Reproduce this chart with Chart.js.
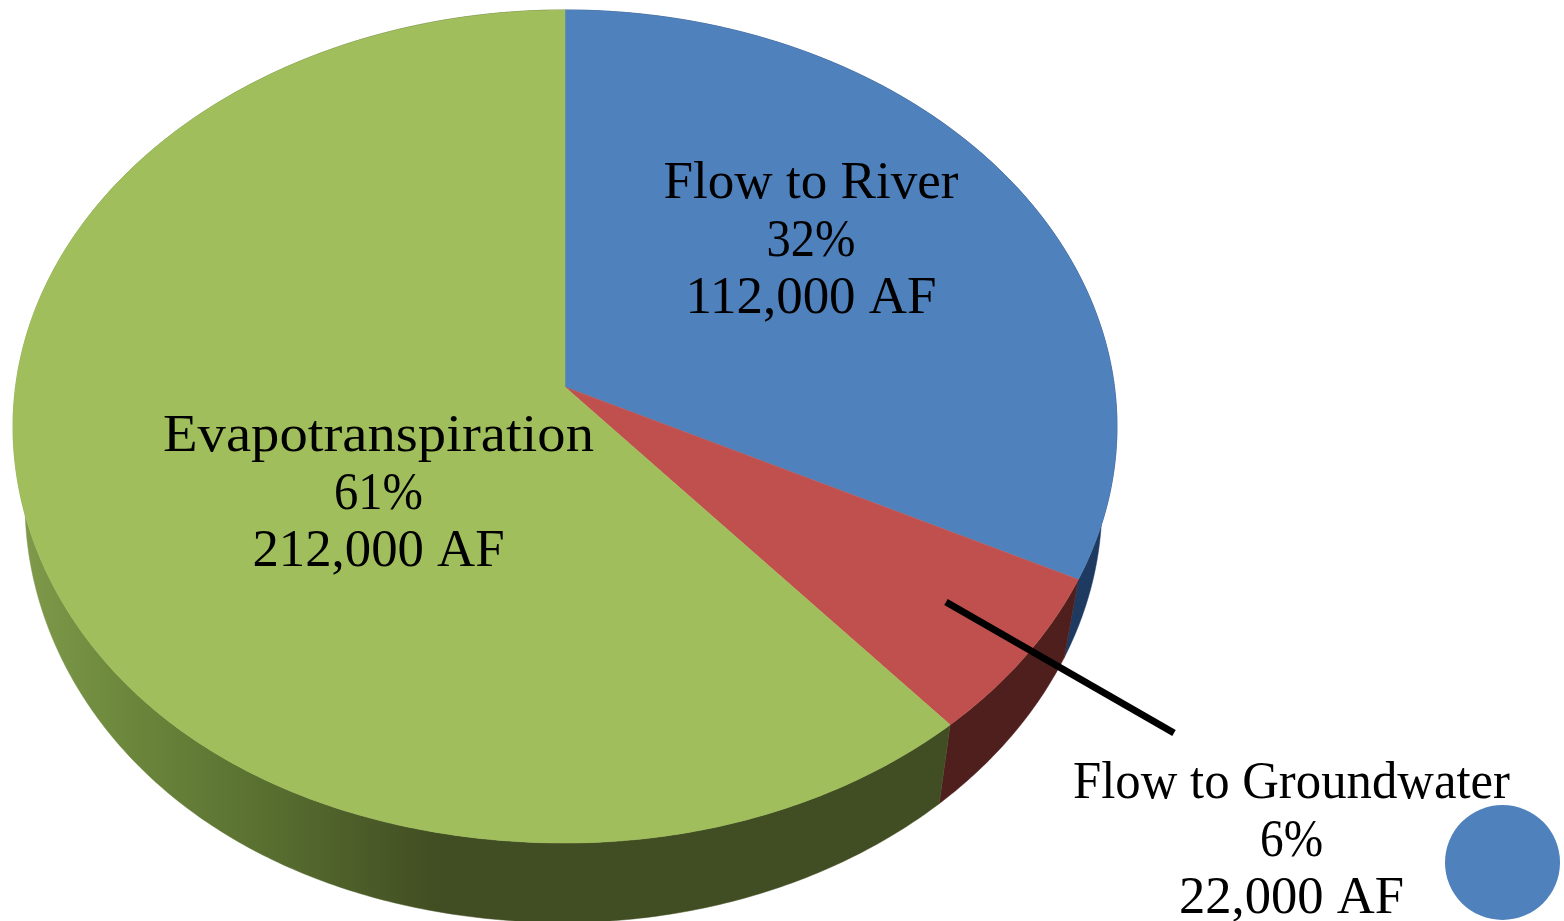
<!DOCTYPE html>
<html>
<head>
<meta charset="utf-8">
<title>Water balance</title>
<script src="https://cdn.jsdelivr.net/npm/chart.js@4"></script>
<style>
  html, body { margin: 0; padding: 0; background: #fff; overflow: hidden; }
  canvas { display: block; }
</style>
</head>
<body>
<canvas id="balanceChart" width="1564" height="921"></canvas>
<script>
const categories = ['Flow to River', 'Flow to Groundwater', 'Evapotranspiration'];
const volumes = [112000, 22000, 212000];
const percents = [32, 6, 61];
const faceColors = ['#4f81bd', '#c0504d', '#a0bf5c'];

// perspective of the disc: tilt is shared, the lower rim sits further from the eye
const tilt = -0.0948;
const upper = { x: 565, y: 387, a: 549.5, b: 412.8 };
const lower = { x: 563.5, y: 464, a: 536, b: 415 };

const project = function(disc, angle) {
    const u = Math.cos(angle);
    const v = Math.sin(angle);
    const w = 1 + tilt * v;
    // the rim sags a little in the front left quadrant
    const sag = (u < 0 && v > 0) ? 5 * Math.pow(Math.sin(2 * angle), 2) : 0;
    return [disc.x + disc.a * u / w, disc.y + disc.b * v / w + sag];
};

const sampleAngles = function(start, end) {
    const steps = Math.max(2, Math.ceil((end - start) / 0.01));
    const out = [];
    for (let i = 0; i <= steps; i++) out.push(start + (end - start) * i / steps);
    return out;
};

const wallFill = function(ctx, index) {
    if (index === 0) return '#1f3a60';
    if (index === 1) return '#4f1f1e';
    const grad = ctx.createLinearGradient(20, 0, 440, 0);
    grad.addColorStop(0, '#7f9a4a');
    grad.addColorStop(0.22, '#6e8a3d');
    grad.addColorStop(0.65, '#556a2e');
    grad.addColorStop(1, '#414d22');
    return grad;
};

const drawWall = function(ctx, arc, index) {
    const angles = sampleAngles(arc.startAngle, arc.endAngle);
    ctx.beginPath();
    angles.forEach((a, i) => {
        const p = project(upper, a);
        if (i === 0) ctx.moveTo(p[0], p[1]); else ctx.lineTo(p[0], p[1]);
    });
    angles.slice().reverse().forEach((a) => {
        const p = project(lower, a);
        ctx.lineTo(p[0], p[1]);
    });
    ctx.closePath();
    const fill = wallFill(ctx, index);
    ctx.fillStyle = fill;
    ctx.strokeStyle = fill;
    ctx.lineWidth = 0.5;
    ctx.fill();
    ctx.stroke();
};

const drawFace = function(ctx, arc, index) {
    ctx.beginPath();
    ctx.moveTo(upper.x, upper.y);
    sampleAngles(arc.startAngle, arc.endAngle).forEach((a) => {
        const p = project(upper, a);
        ctx.lineTo(p[0], p[1]);
    });
    ctx.closePath();
    ctx.fillStyle = faceColors[index];
    ctx.strokeStyle = faceColors[index];
    ctx.lineWidth = 0.5;
    ctx.fill();
    ctx.stroke();
};

// the arcs keep the angles Chart.js worked out, only the drawing is replaced
const tiltedPie = {
    id: 'tiltedPie',
    beforeDatasetDraw(chart) {
        const ctx = chart.ctx;
        const arcs = chart.getDatasetMeta(0).data;
        // walls first: the disc hides the parts at the back
        arcs.forEach((arc, i) => drawWall(ctx, arc, i));
        arcs.forEach((arc, i) => drawFace(ctx, arc, i));
        return false;
    }
};

// centre x, first baseline, and the set width of each of the three lines
const labelSpots = [
    { x: 811, y: 198, widths: [295, 89, 251] },
    { x: 1291.5, y: 798, widths: [437, 63, 225] },
    { x: 378.5, y: 451, widths: [431, 89, 252] }
];
const lineGap = 57.5;

const fitText = function(ctx, text, x, y, width) {
    ctx.save();
    ctx.translate(x, y);
    ctx.scale(width / ctx.measureText(text).width, 1);
    ctx.fillText(text, 0, 0);
    ctx.restore();
};

const sliceLabels = {
    id: 'sliceLabels',
    afterDraw(chart) {
        const ctx = chart.ctx;
        ctx.save();

        // leader line for the small slice
        ctx.beginPath();
        ctx.moveTo(946, 602);
        ctx.lineTo(1174, 733);
        ctx.strokeStyle = '#000';
        ctx.lineWidth = 7;
        ctx.stroke();

        ctx.beginPath();
        ctx.arc(1502.5, 862.5, 57.5, 0, Math.PI * 2);
        ctx.fillStyle = '#4f81bd';
        ctx.fill();

        ctx.fillStyle = '#000';
        ctx.font = '52px "Liberation Serif"';
        ctx.textAlign = 'center';
        ctx.textBaseline = 'alphabetic';
        categories.forEach((name, i) => {
            const spot = labelSpots[i];
            const lines = [name, percents[i] + '%', volumes[i].toLocaleString('en-US') + ' AF'];
            lines.forEach((line, n) => {
                fitText(ctx, line, spot.x, spot.y + n * lineGap, spot.widths[n]);
            });
        });
        ctx.restore();
    }
};

new Chart(document.getElementById('balanceChart'), {
    type: 'pie',
    data: {
        labels: categories,
        datasets: [{
            data: volumes,
            backgroundColor: faceColors,
            borderWidth: 0
        }]
    },
    options: {
        responsive: false,
        animation: false,
        plugins: {
            legend: { display: false },
            tooltip: { enabled: false }
        }
    },
    plugins: [tiltedPie, sliceLabels]
});
</script>
</body>
</html>
